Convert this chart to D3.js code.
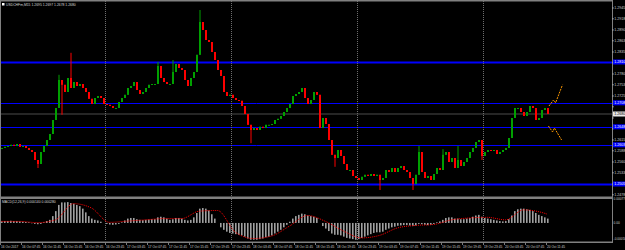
<!DOCTYPE html>
<html>
<head>
<meta charset="utf-8">
<script src="https://cdn.jsdelivr.net/npm/d3@7"></script>
<style>
  body { margin: 0; background: #000; }
  svg { display: block; }
  text { font-family: "Liberation Sans", Arial, sans-serif; }
</style>
</head>
<body>
<div id="container"></div>
<script>
/* CONSTANTS AND GLOBALS */
const width = 625,
  height = 250,
  margin = { top: 0, bottom: 8, left: 0, right: 13 }

/* DATA */
const symbolTitle = "USDCHFm,M15  1.2695 1.2697 1.2678 1.2680"
const macdTitle = "MACD(12,26,9) 0.000140 0.000280"

const firstOpen = 1.2593
const closes = [
  1.2595,1.2598,1.2600,1.2603,1.2600,1.2605,1.2598,1.2600,1.2595,1.2590,
  1.2585,1.2565,1.2555,1.2585,1.2600,1.2615,1.2630,1.2665,1.2695,1.2765,
  1.2753,1.2735,1.2770,1.2745,1.2760,1.2750,1.2755,1.2745,1.2735,1.2718,
  1.2705,1.2720,1.2725,1.2720,1.2705,1.2703,1.2700,1.2695,1.2695,1.2710,
  1.2720,1.2728,1.2745,1.2750,1.2760,1.2740,1.2730,1.2735,1.2745,1.2753,
  1.2755,1.2755,1.2800,1.2770,1.2760,1.2755,1.2755,1.2785,1.2805,1.2795,
  1.2790,1.2765,1.2750,1.2770,1.2785,1.2828,1.2910,1.2890,1.2865,1.2860,
  1.2835,1.2815,1.2790,1.2775,1.2735,1.2725,1.2728,1.2720,1.2715,1.2713,
  1.2700,1.2680,1.2653,1.2640,1.2645,1.2640,1.2648,1.2645,1.2653,1.2653,
  1.2655,1.2665,1.2668,1.2675,1.2685,1.2695,1.2705,1.2725,1.2730,1.2735,
  1.2745,1.2720,1.2705,1.2715,1.2735,1.2728,1.2645,1.2670,1.2655,1.2615,
  1.2578,1.2570,1.2590,1.2575,1.2555,1.2540,1.2540,1.2525,1.2520,1.2515,
  1.2523,1.2528,1.2525,1.2530,1.2525,1.2528,1.2515,1.2520,1.2540,1.2535,
  1.2545,1.2535,1.2545,1.2550,1.2540,1.2535,1.2520,1.2505,1.2528,1.2585,
  1.2535,1.2520,1.2525,1.2515,1.2530,1.2545,1.2540,1.2578,1.2585,1.2560,
  1.2570,1.2545,1.2565,1.2550,1.2560,1.2570,1.2585,1.2595,1.2610,1.2615,
  1.2575,1.2585,1.2590,1.2588,1.2590,1.2580,1.2585,1.2590,1.2595,1.2620,
  1.2670,1.2695,1.2695,1.2685,1.2675,1.2685,1.2700,1.2695,1.2665,1.2670,
  1.2690,1.2695,1.2680
]
// long wicks [candle index, price]
const spikeHighs = [[19,1.2778],[23,1.2833],[52,1.2810],[57,1.2815],[66,1.2940],[139,1.2600],[147,1.2592],[152,1.2600]]
const spikeLows = [[12,1.2545],[20,1.2678],[83,1.2607],[111,1.2548],[126,1.2490],[137,1.2490],[160,1.2565]]

const priceTicks = [1.2945,1.2918,1.2890,1.2863,1.2835,1.2808,1.2780,1.2753,1.2725,
  1.2698,1.2670,1.2643,1.2615,1.2588,1.2560,1.2533,1.2505,1.2478]
const levels = [1.2810, 1.2708, 1.2648, 1.2603, 1.2505]
const levelWidths = [2, 1, 1, 1, 2]
const lastPrice = 1.2680

const forecastUp = [[182.5,1.2700],[184,1.2715],[184.7,1.2708],[187,1.2753]]
const forecastDown = [[182.3,1.2650],[183.7,1.2635],[184.3,1.2645],[186.7,1.2615]]

const separatorIdx = [35, 77, 119, 161]

// MACD in units of 1e-5
const macdHist = [
  5,6,6,7,6,6,5,4,3,2,
  -1,-3,-4,-3,2,6,10,22,38,58,
  66,66,67,64,62,58,54,46,34,22,
  14,10,8,4,0,-3,-5,-6,-5,-3,
  2,8,14,16,16,12,10,9,10,11,
  12,12,18,20,18,14,10,12,16,16,
  14,10,8,10,18,32,46,48,46,40,
  28,14,0,-14,-22,-28,-32,-34,-36,-38,
  -40,-44,-50,-54,-54,-54,-52,-50,-46,-44,
  -40,-34,-28,-22,-14,-6,4,14,22,26,
  30,28,24,22,20,16,0,-10,-18,-26,
  -34,-38,-38,-40,-44,-48,-50,-52,-54,-52,
  -48,-44,-40,-36,-32,-30,-30,-28,-22,-18,
  -14,-12,-9,-8,-7,-7,-8,-10,-8,-3,
  -4,-6,-7,-6,-3,2,5,10,16,18,
  18,14,14,12,12,14,16,20,24,26,
  20,16,14,12,10,8,6,5,6,12,
  24,38,44,46,46,44,42,38,32,26,
  22,18,14
]
const signalIdx = [0,6,12,18,24,30,36,42,48,54,60,66,72,78,84,90,96,102,108,114,120,126,132,138,144,150,156,162,168,174,180,182]
const signalVal = [5,5,1,10,62,48,2,6,10,14,14,38,40,-30,-50,-42,-10,24,5,-26,-48,-40,-16,-8,-5,10,16,18,10,42,34,28]
const macdTicks = [77, 0, -58]
const macdTickLabels = ["0.00077", "0.00", "-0.00058"]

const timeLabels = [
  "16 Oct 2017","16 Oct 07:45","16 Oct 11:45","16 Oct 15:45","16 Oct 19:45","16 Oct 23:45",
  "17 Oct 03:45","17 Oct 07:45","17 Oct 11:45","17 Oct 15:45","17 Oct 19:45","17 Oct 23:45",
  "18 Oct 03:45","18 Oct 07:45","18 Oct 11:45","18 Oct 15:45","18 Oct 19:45","18 Oct 23:45",
  "19 Oct 03:45","19 Oct 07:45","19 Oct 11:45","19 Oct 15:45","19 Oct 19:45","19 Oct 23:45",
  "20 Oct 03:45","20 Oct 07:45","20 Oct 11:45"
]
const labelEvery = 7

/* SCALES */
const plotRight = width - margin.right
const mainTop = 0, mainBottom = 196
const macdTop = 199, macdBottom = 241

const xScale = d3.scaleLinear().domain([0, closes.length - 1]).range([1.5, 547.5])
const yScale = d3.scaleLinear().domain([1.2965, 1.2475]).range([mainTop, mainBottom])
const yMacd = d3.scaleLinear().domain([77, -58]).range([macdTop, macdBottom])

// build candles from closes (open = previous close)
const candles = closes.map((c, i) => {
  const o = i ? closes[i - 1] : firstOpen
  return { i, o, c, hi: Math.max(o, c), lo: Math.min(o, c) }
})
spikeHighs.forEach(([i, p]) => { candles[i].hi = Math.max(candles[i].hi, p) })
spikeLows.forEach(([i, p]) => { candles[i].lo = Math.min(candles[i].lo, p) })

/* CREATE SVG ELEMENT */
const svg = d3.select("#container")
  .append("svg")
  .attr("width", width)
  .attr("height", height)

svg.append("rect").attr("width", width).attr("height", height).attr("fill", "#000")

const defs = svg.append("defs")
defs.append("clipPath").attr("id", "mainClip")
  .append("rect").attr("x", 0).attr("y", mainTop).attr("width", plotRight).attr("height", mainBottom - mainTop)

const main = svg.append("g").attr("clip-path", "url(#mainClip)")

// period separators
svg.append("g").selectAll("line")
  .data(separatorIdx)
  .join("line")
  .attr("x1", d => xScale(d) - 1)
  .attr("x2", d => xScale(d) - 1)
  .attr("y1", 1)
  .attr("y2", macdBottom)
  .attr("stroke", "#6e6e6e")
  .attr("stroke-dasharray", "1,1")

// levels
main.selectAll("line.level")
  .data(levels)
  .join("line")
  .attr("class", "level")
  .attr("x1", 0).attr("x2", plotRight)
  .attr("y1", d => Math.round(yScale(d)) + 0.5)
  .attr("y2", d => Math.round(yScale(d)) + 0.5)
  .attr("stroke", "#0000ff")
  .attr("stroke-width", (d, i) => levelWidths[i])

// last price line
main.append("line")
  .attr("x1", 0).attr("x2", plotRight)
  .attr("y1", yScale(lastPrice)).attr("y2", yScale(lastPrice))
  .attr("stroke", "#333")
  .attr("stroke-width", 1.5)

// CANDLES
const bull = "#00a000", bear = "#ff0000"
const cg = main.append("g")
cg.selectAll("line")
  .data(candles)
  .join("line")
  .attr("x1", d => xScale(d.i) + 0.5)
  .attr("x2", d => xScale(d.i) + 0.5)
  .attr("y1", d => yScale(d.hi))
  .attr("y2", d => yScale(d.lo))
  .attr("stroke", d => d.c >= d.o ? bull : bear)
  .attr("stroke-width", 1)
cg.selectAll("rect")
  .data(candles)
  .join("rect")
  .attr("x", d => xScale(d.i) - 0.5)
  .attr("width", 2)
  .attr("y", d => yScale(Math.max(d.o, d.c)))
  .attr("height", d => Math.max(1, yScale(Math.min(d.o, d.c)) - yScale(Math.max(d.o, d.c))))
  .attr("fill", d => d.c >= d.o ? bull : bear)

// forecast zigzags
const fLine = d3.line().x(d => xScale(d[0])).y(d => yScale(d[1]))
main.selectAll("path.fc")
  .data([forecastUp, forecastDown])
  .join("path")
  .attr("class", "fc")
  .attr("d", fLine)
  .attr("fill", "none")
  .attr("stroke", "#ff9900")
  .attr("stroke-width", 1)
  .attr("stroke-dasharray", "2,1")

// MACD
svg.append("g").selectAll("rect")
  .data(macdHist)
  .join("rect")
  .attr("x", (d, i) => xScale(i) - 0.5)
  .attr("width", 1.6)
  .attr("y", d => Math.min(yMacd(d), yMacd(0)))
  .attr("height", d => Math.abs(yMacd(d) - yMacd(0)))
  .attr("fill", "#a0a0a0")

const sLine = d3.line()
  .x((d, k) => xScale(signalIdx[k]))
  .y(d => yMacd(d))
  .curve(d3.curveMonotoneX)
svg.append("path")
  .attr("d", sLine(signalVal))
  .attr("fill", "none")
  .attr("stroke", "#ff0000")
  .attr("stroke-width", 1)
  .attr("stroke-dasharray", "1,1")

// FRAME
const gray = "#808080"
svg.append("rect").attr("x", 0).attr("y", 0).attr("width", plotRight).attr("height", 1.5).attr("fill", gray)
svg.append("rect").attr("x", 0).attr("y", 0).attr("width", 1).attr("height", macdBottom + 1).attr("fill", gray)
svg.append("rect").attr("x", 0).attr("y", 196.5).attr("width", plotRight).attr("height", 2.5).attr("fill", gray)
svg.append("rect").attr("x", 0).attr("y", macdBottom + 0.5).attr("width", plotRight + 1).attr("height", 1.5).attr("fill", gray)
svg.append("rect").attr("x", plotRight).attr("y", 0).attr("width", 1).attr("height", macdBottom + 2).attr("fill", gray)

// titles
svg.append("rect").attr("x", 2).attr("y", 3).attr("width", 2.5).attr("height", 2.5).attr("fill", "#fff")
svg.append("text").attr("x", 6).attr("y", 5.8).attr("font-size", 3.4).attr("fill", "#d8d8d8").text(symbolTitle)
svg.append("text").attr("x", 2).attr("y", 203).attr("font-size", 3.4).attr("fill", "#d8d8d8").text(macdTitle)

// PRICE AXIS (skip tick labels hidden behind level boxes)
const fmt = d3.format(".4f")
const boxed = levels.concat([lastPrice])
const freeTicks = priceTicks.filter(t => boxed.every(b => Math.abs(yScale(t) - yScale(b)) > 4.5))
const pa = svg.append("g")
pa.selectAll("line")
  .data(priceTicks)
  .join("line")
  .attr("x1", plotRight).attr("x2", plotRight + 2)
  .attr("y1", d => yScale(d)).attr("y2", d => yScale(d))
  .attr("stroke", "#c8c8c8").attr("stroke-width", 0.6)
pa.selectAll("text")
  .data(freeTicks)
  .join("text")
  .attr("x", plotRight + 2.2)
  .attr("y", d => yScale(d) + 1.2)
  .attr("font-size", 3.6)
  .attr("fill", "#d0d0d0")
  .text(d => fmt(d))

const boxes = svg.append("g")
boxes.selectAll("rect")
  .data(levels)
  .join("rect")
  .attr("x", plotRight + 1).attr("width", 12)
  .attr("y", d => yScale(d) - 2.5).attr("height", 5)
  .attr("fill", "#0000ff")
boxes.selectAll("text")
  .data(levels)
  .join("text")
  .attr("x", plotRight + 2.2)
  .attr("y", d => yScale(d) + 1.2)
  .attr("font-size", 3.6)
  .attr("fill", "#fff")
  .text(d => fmt(d))

svg.append("rect")
  .attr("x", plotRight + 1).attr("width", 12)
  .attr("y", yScale(lastPrice) - 2.5).attr("height", 5)
  .attr("fill", "#e8e8e8")
svg.append("text")
  .attr("x", plotRight + 2.2).attr("y", yScale(lastPrice) + 1.2)
  .attr("font-size", 3.6).attr("fill", "#000")
  .text(fmt(lastPrice))

// MACD AXIS
svg.append("g").selectAll("text")
  .data(macdTicks)
  .join("text")
  .attr("x", plotRight + 1.6)
  .attr("y", (d, i) => i === 2 ? yMacd(d) - 1 : yMacd(d) + 1.4)
  .attr("font-size", 3.2)
  .attr("fill", "#d0d0d0")
  .text((d, i) => macdTickLabels[i])

// TIME AXIS
const ta = svg.append("g")
ta.selectAll("line")
  .data(timeLabels)
  .join("line")
  .attr("x1", (d, k) => xScale(k * labelEvery) - 1)
  .attr("x2", (d, k) => xScale(k * labelEvery) - 1)
  .attr("y1", macdBottom + 2).attr("y2", macdBottom + 4)
  .attr("stroke", "#c8c8c8").attr("stroke-width", 0.6)
ta.selectAll("text")
  .data(timeLabels)
  .join("text")
  .attr("x", (d, k) => xScale(k * labelEvery) - 0.5)
  .attr("y", 248)
  .attr("font-size", 3.2)
  .attr("fill", "#d0d0d0")
  .text(d => d)
</script>
</body>
</html>
